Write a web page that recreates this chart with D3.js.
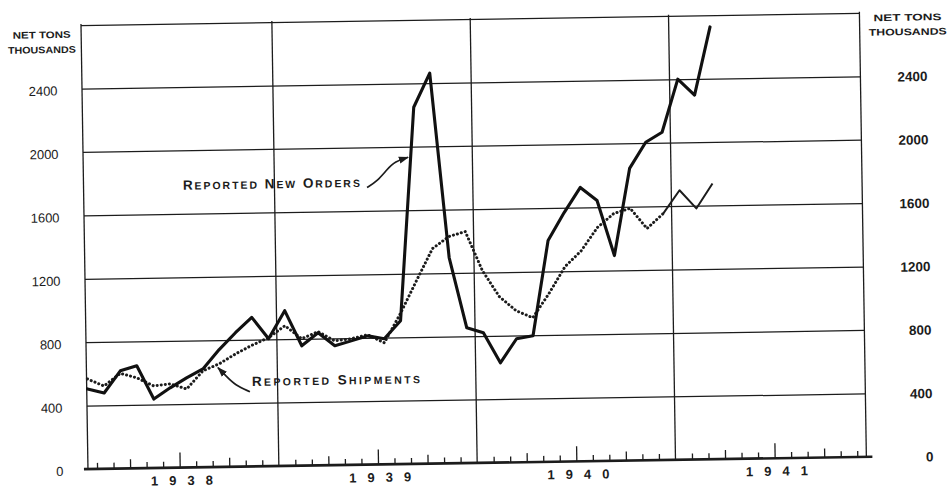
<!DOCTYPE html>
<html><head><meta charset="utf-8">
<script src="https://cdn.jsdelivr.net/npm/d3@7"></script>
<style>body{margin:0;background:#fff}svg{display:block;background:#fff}</style>
</head><body><svg id="c" width="951" height="488"></svg>
<script>
// ---- data (thousands of net tons, monthly) ----
const months = ["1938-01","1938-02","1938-03","1938-04","1938-05","1938-06","1938-07","1938-08","1938-09","1938-10","1938-11","1938-12",
  "1939-01","1939-02","1939-03","1939-04","1939-05","1939-06","1939-07","1939-08","1939-09","1939-10","1939-11","1939-12",
  "1940-01","1940-02","1940-03","1940-04","1940-05","1940-06","1940-07","1940-08","1940-09","1940-10","1940-11","1940-12",
  "1941-01","1941-02","1941-03"];
const newOrders = [505,478,616,646,435,504,565,620,740,845,940,804,979,756,837,753,782,812,792,904,2249,2463,1298,853,820,629,779,796,1395,1570,1727,1643,1294,1842,2005,2067,2400,2298,2726];
const shipments = [568,522,600,570,518,529,495,608,651,712,765,810,884,801,843,784,796,819,767,950,1155,1356,1430,1460,1212,1046,956,910,1060,1229,1328,1473,1559,1590,1461,1555,1699,1583,1739];
const yTickLabels = [0,400,800,1200,1600,2000,2400];
const gridValues = [400,800,1200,1600,2000,2400,2800];
const years = ["1938","1939","1940","1941"];
const xDomain = [0.45,47.55];          // months since Jan 1 1938
const yDomain = [0,2800];
const ordersArrow = [[17.6,1748],[18.21,1785],[18.83,1860],[19.32,1909],[20.11,1934]];
const shipArrow = [[10.32,471],[9.42,516],[8.94,568],[8.41,626]];

const INK = "#1c1c1c";
const svg = d3.select("#c");
const defs = svg.append("defs");
defs.append("marker").attr("id","ah").attr("viewBox","0 0 10 10").attr("refX",9).attr("refY",5)
  .attr("markerWidth",6).attr("markerHeight",6).attr("orient","auto")
  .append("path").attr("d","M0,1.5 L10,5 L0,8.5 Z").attr("fill",INK);

const g = svg.append("g").attr("transform","rotate(-0.9,470,245)");
const x = d3.scaleLinear().domain(xDomain).range([84.5,863]);
const y = d3.scaleLinear().domain(yDomain).range([463,19]);
const L = x.range()[0], R = x.range()[1];

// horizontal grid
g.append("g").attr("transform",`translate(${L},0)`)
  .call(d3.axisLeft(y).tickValues(gridValues).tickSize(-(R-L)).tickFormat(""))
  .call(s=>s.select(".domain").remove())
  .selectAll("line").attr("stroke",INK).attr("stroke-width",1.25);

// vertical lines: axes + year boundaries
const vlines = [xDomain[0],12,24,36,xDomain[1]];
g.selectAll(".vl").data(vlines).join("line")
  .attr("x1",d=>x(d)).attr("x2",d=>x(d)).attr("y1",y(2800)-1).attr("y2",y(0))
  .attr("stroke",INK).attr("stroke-width",1.3);

// bottom ticks (pointing up)
const allM = d3.range(1,48).filter(m=>m%12!==0);
const tall = allM.filter(m=>m%12===6);
const med = allM.filter(m=>m%3===0 && m%12!==6);
const shortT = allM.filter(m=>m%3!==0);
function ticks(vals,len){
  g.append("g").attr("transform",`translate(0,${y(0)})`)
   .call(d3.axisBottom(x).tickValues(vals).tickSize(-len).tickFormat(""))
   .call(s=>s.select(".domain").remove())
   .selectAll("line").attr("stroke",INK).attr("stroke-width",1.3);
}
ticks(shortT,6); ticks(med,9); ticks(tall,15);
// baseline
g.append("line").attr("x1",L-4).attr("x2",R+6).attr("y1",y(0)).attr("y2",y(0))
  .attr("stroke",INK).attr("stroke-width",2.6);

// year labels
g.selectAll(".yr").data(years).join("text")
  .attr("x",(d,i)=>x(i*12+6)+2).attr("y",y(0)+17.5)
  .attr("text-anchor","middle").attr("textLength",62).attr("lengthAdjust","spacing")
  .attr("font-family","Liberation Sans, Arial, sans-serif").attr("font-size",13).attr("font-weight","bold").attr("fill",INK)
  .text(d=>d);

// left y labels
g.selectAll(".yl").data(yTickLabels).join("text")
  .attr("x",60).attr("y",d=>y(d)+2).attr("dy","0.35em").attr("text-anchor","end")
  .attr("font-family","Liberation Sans, Arial, sans-serif").attr("font-size",13).attr("fill",INK)
  .text(d=>d);
// right y labels
g.selectAll(".yr2").data(yTickLabels).join("text")
  .attr("x",930).attr("y",d=>y(d)+1).attr("dy","0.35em").attr("text-anchor","end")
  .attr("font-family","Liberation Sans, Arial, sans-serif").attr("font-size",13.5).attr("font-weight","bold").attr("fill",INK)
  .text(d=>d);

// unit headers
function header(cx,b1,b2,w1,w2){
  [["NET TONS",b1,w1],["THOUSANDS",b2,w2]].forEach(([t,b,w])=>{
    g.append("text").attr("x",cx).attr("y",b).attr("text-anchor","middle")
     .attr("textLength",w).attr("lengthAdjust","spacingAndGlyphs")
     .attr("font-family","Liberation Sans, Arial, sans-serif").attr("font-weight","bold").attr("font-size",9.5).attr("fill",INK)
     .text(t);
  });
}
header(45,31.5,46.5,58,68);
header(911,27.5,42,68,78);

// series
const pts = arr => arr.map((v,i)=>({m:i+0.5,v,i}));
const line = d3.line().x(d=>x(d.m)).y(d=>y(d.v));
g.append("path").datum(pts(shipments).filter(d=>d.i<=35)).attr("d",line)
  .attr("fill","none").attr("stroke",INK).attr("stroke-width",3)
  .attr("stroke-linecap","round").attr("stroke-dasharray","0.1 4");
g.append("path").datum(pts(shipments).filter(d=>d.i>=35)).attr("d",line)
  .attr("fill","none").attr("stroke",INK).attr("stroke-width",2).attr("stroke-linejoin","round");
g.append("path").datum(pts(newOrders)).attr("d",line)
  .attr("fill","none").attr("stroke","#111").attr("stroke-width",3.1)
  .attr("stroke-linejoin","round").attr("stroke-linecap","round");

// annotations
const aLine = d3.line().x(d=>x(d[0])).y(d=>y(d[1])).curve(d3.curveBasis);
[ordersArrow,shipArrow].forEach(a=>{
  g.append("path").attr("d",aLine(a)).attr("fill","none").attr("stroke",INK)
   .attr("stroke-width",1.7).attr("marker-end","url(#ah)");
});
function smallCaps(words, xStart, base, width){
  const t = g.append("text").attr("x",xStart).attr("y",base).attr("text-anchor","start")
    .attr("textLength",width).attr("lengthAdjust","spacing")
    .attr("font-family","Liberation Sans, Arial, sans-serif").attr("font-weight","bold").attr("fill",INK);
  words.forEach((w,wi)=>{
    t.append("tspan").attr("font-size",13.5).text((wi?" ":"")+w[0]);
    t.append("tspan").attr("font-size",10.5).text(w.slice(1).toUpperCase());
  });
}
smallCaps(["Reported","New","Orders"], x(6.46), y(1752), 177);
smallCaps(["Reported","Shipments"], x(10.45), y(508), 168);
</script></body></html>
